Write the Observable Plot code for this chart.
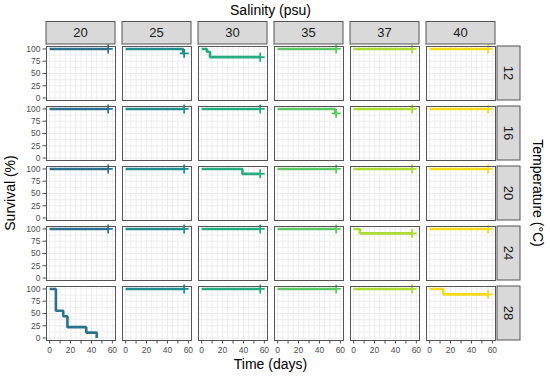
<!DOCTYPE html>
<html>
<head>
<meta charset="utf-8">
<script src="https://cdn.jsdelivr.net/npm/d3@7"></script>
<script src="https://cdn.jsdelivr.net/npm/@observablehq/plot@0.6"></script>
<style>
  html, body { margin: 0; padding: 0; background: #fff; }
  #chart svg { display: block; }
</style>
</head>
<body>
<div id="chart"></div>
<script>
// ---------- data ----------
const salinity = [20, 25, 30, 35, 37, 40];          // column facets (psu)
const temperature = [12, 16, 20, 24, 28];           // row facets (°C)
const lineColors = ["#2C728E", "#21908D", "#27AD81", "#5DC863", "#AADC32", "#F6DB1A"];
const xTicks = [0, 10, 20, 30, 40, 50, 60];
const yTicks = [0, 25, 50, 75, 100];
const xGrid = [0, 5, 10, 15, 20, 25, 30, 35, 40, 45, 50, 55, 60];
const yGrid = [0, 12.5, 25, 37.5, 50, 62.5, 75, 87.5, 100];

// Kaplan–Meier step curves (day, survival %)
const fullTime = [0, 56];
const fullSurv = [100, 100];
const t12s25Time = [0, 55, 56];
const t12s25Surv = [100, 91, 91];
const t12s30Time = [0, 5, 8, 56];
const t12s30Surv = [100, 94.4, 83.3, 83.3];
const t16s35Time = [0, 55, 56];
const t16s35Surv = [100, 91, 91];
const t20s30Time = [0, 39, 56];
const t20s30Surv = [100, 90, 90];
const t24s37Time = [0, 6, 56];
const t24s37Surv = [100, 91, 91];
const t28s20Time = [0, 6, 13, 17, 35, 45];
const t28s20Surv = [100, 55.6, 44.4, 22.2, 11.1, 0];
const t28s40Time = [0, 13, 56];
const t28s40Surv = [100, 89, 89];

// [temperature, salinity, times, survival, censored at end]
const specialCurves = [
  [12, 25, t12s25Time, t12s25Surv, true],
  [12, 30, t12s30Time, t12s30Surv, true],
  [16, 35, t16s35Time, t16s35Surv, true],
  [20, 30, t20s30Time, t20s30Surv, true],
  [24, 37, t24s37Time, t24s37Surv, true],
  [28, 20, t28s20Time, t28s20Surv, false],
  [28, 40, t28s40Time, t28s40Surv, true]
];

// ---------- build tables ----------
const rows = [];
const censor = [];
for (const t of temperature) {
  for (const s of salinity) {
    const c = specialCurves.find(d => d[0] === t && d[1] === s);
    const times = c ? c[2] : fullTime;
    const surv = c ? c[3] : fullSurv;
    times.forEach((d, i) => rows.push({temp: t, sal: s, key: t + "-" + s, day: d, surv: surv[i]}));
    if (!c || c[4]) censor.push({temp: t, sal: s, day: times[times.length - 1], surv: surv[surv.length - 1]});
  }
}

// ---------- plot ----------
const FONT = "'Liberation Sans', Arial, Helvetica, sans-serif";
const M = {top: 44, right: 53, bottom: 35, left: 44};
const W = 550, H = 377;

const plot = Plot.plot({
  width: W, height: H,
  marginTop: M.top, marginRight: M.right, marginBottom: M.bottom, marginLeft: M.left,
  style: {fontFamily: FONT, fontSize: "8.5px", background: "#fff", overflow: "visible"},
  fx: {domain: salinity, paddingInner: 0.086, paddingOuter: 0, axis: null, label: null},
  fy: {domain: temperature, paddingInner: 0.105, paddingOuter: 0, axis: null, label: null},
  x: {domain: [-3, 63], label: null},
  y: {domain: [-5, 105], label: null},
  color: {type: "ordinal", domain: salinity, range: lineColors},
  marks: [
    Plot.ruleX(xGrid, {stroke: "#EBEBEB", strokeWidth: 0.9}),
    Plot.ruleY(yGrid, {stroke: "#EBEBEB", strokeWidth: 0.9}),
    Plot.line(rows, {x: "day", y: "surv", z: "key", fx: "sal", fy: "temp", stroke: "sal",
      strokeWidth: 2.6, curve: "step-after", strokeLinecap: "butt", strokeLinejoin: "miter"}),
    Plot.dot(censor, {x: "day", y: "surv", fx: "sal", fy: "temp", stroke: "sal",
      symbol: "plus", r: 3, strokeWidth: 1.8}),
    Plot.frame({stroke: "#555", strokeWidth: 1}),
    Plot.axisX(xTicks, {tickFormat: d => (d % 20 === 0 ? d : ""), tickSize: 3.5, tickPadding: 2.5,
      color: "#4D4D4D", label: null}),
    Plot.axisY(yTicks, {tickSize: 3.5, tickPadding: 2.5, color: "#4D4D4D", label: null})
  ]
});

document.getElementById("chart").appendChild(plot);

// ---------- strips and titles ----------
const svg = d3.select(plot);
const fx = plot.scale("fx");
const fy = plot.scale("fy");
const stripH = 22.5, stripW = 23;
const g = svg.append("g").attr("font-family", FONT);

salinity.forEach(s => {
  const x0 = fx.apply(s), bw = fx.bandwidth;
  g.append("rect").attr("x", x0).attr("y", M.top - stripH).attr("width", bw).attr("height", stripH)
    .attr("fill", "#D9D9D9").attr("stroke", "#555").attr("stroke-width", 1);
  g.append("text").attr("x", x0 + bw / 2).attr("y", M.top - stripH / 2).attr("dy", "0.36em")
    .attr("text-anchor", "middle").attr("font-size", 13).attr("fill", "#1A1A1A").text(s);
});

temperature.forEach(t => {
  const y0 = fy.apply(t), bh = fy.bandwidth;
  const x0 = W - M.right;
  g.append("rect").attr("x", x0).attr("y", y0).attr("width", stripW).attr("height", bh)
    .attr("fill", "#D9D9D9").attr("stroke", "#555").attr("stroke-width", 1);
  g.append("text").attr("transform", `translate(${x0 + stripW / 2},${y0 + bh / 2}) rotate(90)`)
    .attr("dy", "0.36em").attr("text-anchor", "middle").attr("font-size", 13)
    .attr("fill", "#1A1A1A").text(t);
});

const cx = (M.left + W - M.right) / 2;
const cy = (M.top + H - M.bottom) / 2;
g.append("text").attr("x", cx).attr("y", 15).attr("text-anchor", "middle")
  .attr("font-size", 14).attr("fill", "#000").text("Salinity (psu)");
g.append("text").attr("x", cx).attr("y", 369).attr("text-anchor", "middle")
  .attr("font-size", 14).attr("fill", "#000").text("Time (days)");
g.append("text").attr("transform", `translate(10,${cy}) rotate(-90)`).attr("dy", "0.36em")
  .attr("text-anchor", "middle").attr("font-size", 14).attr("fill", "#000").text("Survival (%)");
g.append("text").attr("transform", `translate(538,${cy}) rotate(90)`).attr("dy", "0.36em")
  .attr("text-anchor", "middle").attr("font-size", 14).attr("fill", "#000").text("Temperature (°C)");
</script>
</body>
</html>
